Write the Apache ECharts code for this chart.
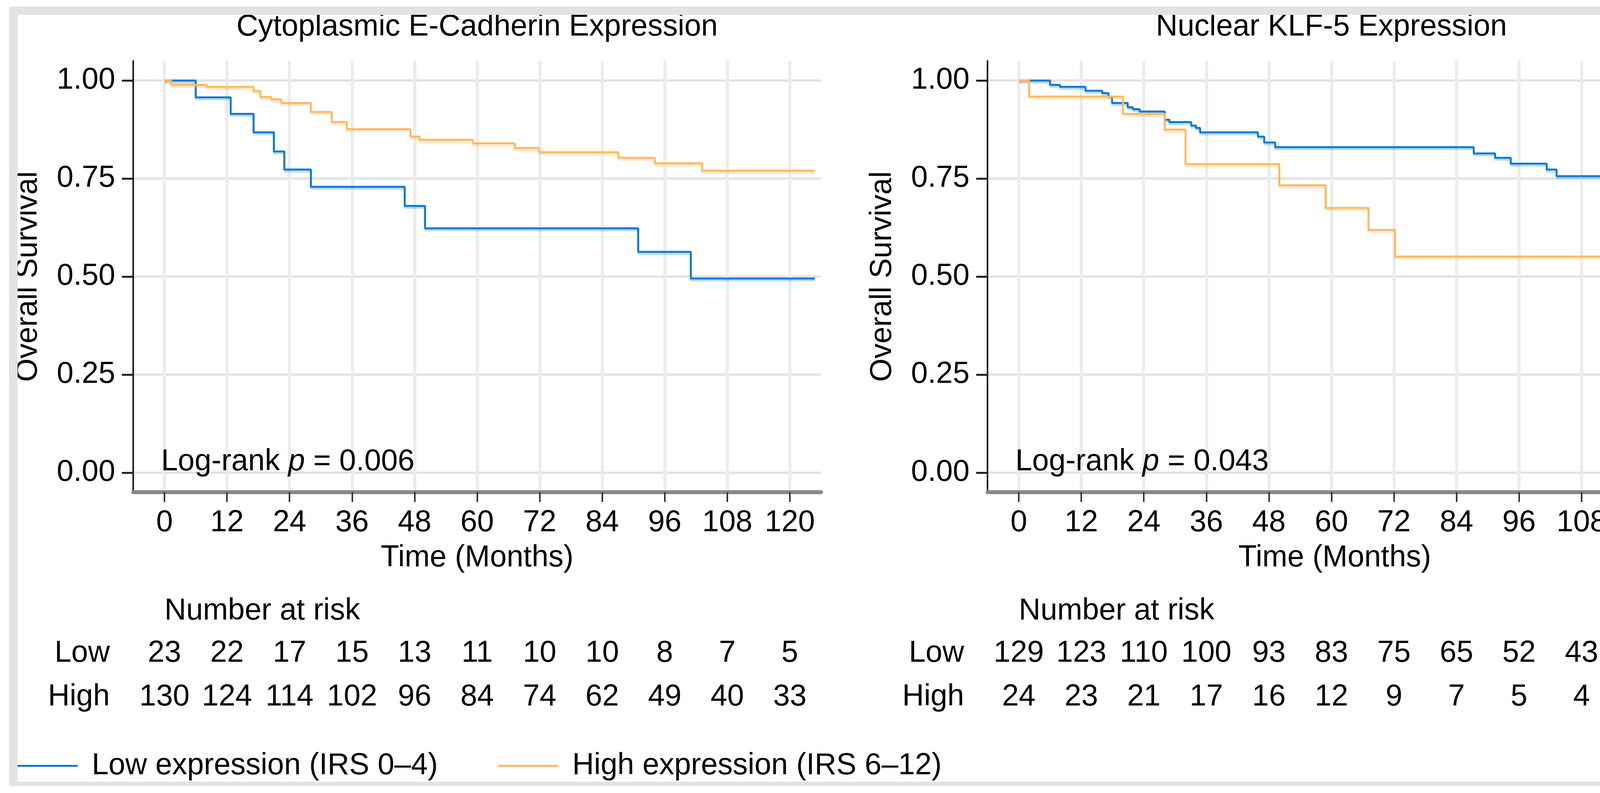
<!DOCTYPE html>
<html>
<head>
<meta charset="utf-8">
<title>Overall survival by expression</title>
<script src="https://cdn.jsdelivr.net/npm/echarts@6.0.0/dist/echarts.min.js"></script>
<style>
  html, body { margin: 0; padding: 0; background: #fff; }
  #chart { width: 4370px; height: 2030px; }
</style>
</head>
<body>
<div id="chart"></div>
<script>
// ticks
const timeTicks = [0, 12, 24, 36, 48, 60, 72, 84, 96, 108, 120];
const survTicks = [0, 0.25, 0.5, 0.75, 1];
const riskRows = ['High', 'Low'];

const titles = ['Cytoplasmic E-Cadherin Expression', 'Nuclear KLF-5 Expression'];
const pValues = ['0.006', '0.043'];
const lowName = 'Low expression (IRS 0–4)';
const highName = 'High expression (IRS 6–12)';

// Cytoplasmic E-Cadherin curves (time in months, survival)
const cadLowTime = [0, 6.0, 12.7, 17.1, 21.0, 23.0, 28.1, 46.1, 50.0, 90.9, 101.0, 124.8];
const cadLowSurv = [1, 0.957, 0.915, 0.868, 0.819, 0.773, 0.729, 0.680, 0.623, 0.563, 0.495, 0.495];
const cadHighTime = [0, 1.3, 8.1, 17.1, 18.4, 20.5, 22.4, 28.1, 32.1, 35.0, 47.2, 48.9, 59.2, 67.2, 71.9, 87.1, 94.1, 103.2, 124.8];
const cadHighSurv = [1, 0.989, 0.984, 0.973, 0.958, 0.952, 0.943, 0.920, 0.894, 0.876, 0.857, 0.849, 0.840, 0.828, 0.817, 0.803, 0.789, 0.770, 0.770];

// Nuclear KLF-5 curves
const klfLowTime = [0, 6.0, 7.9, 12.8, 16.0, 17.2, 17.9, 20.9, 21.9, 23.2, 28.0, 28.9, 33.1, 34.0, 34.8, 45.9, 47.1, 49.2, 87.3, 91.4, 94.4, 101.3, 103.2, 126.5];
const klfLowSurv = [1, 0.989, 0.984, 0.974, 0.968, 0.959, 0.943, 0.932, 0.927, 0.921, 0.900, 0.894, 0.885, 0.879, 0.868, 0.857, 0.842, 0.830, 0.814, 0.803, 0.788, 0.773, 0.756, 0.756];
const klfHighTime = [0, 2.0, 20.0, 28.0, 32.0, 50.0, 58.9, 67.1, 72.2, 126.5];
const klfHighSurv = [1, 0.959, 0.915, 0.875, 0.787, 0.733, 0.675, 0.619, 0.551, 0.551];

// number at risk
const cadRiskLow = [23, 22, 17, 15, 13, 11, 10, 10, 8, 7, 5];
const cadRiskHigh = [130, 124, 114, 102, 96, 84, 74, 62, 49, 40, 33];
const klfRiskLow = [129, 123, 110, 100, 93, 83, 75, 65, 52, 43, 35];
const klfRiskHigh = [24, 23, 21, 17, 16, 12, 9, 7, 5, 4, 3];

const FONT = 'Liberation Sans';
const FS = 77;
const INK = '#000';
const BLUE = '#0a78d6';
const ORANGE = '#ffb85e';

// both panels share the px-per-month scale, the right one runs into the frame
const panels = [
  { left: 341, width: 1761 },
  { left: 2528, width: 1778 }
];
panels.forEach(p => { p.max = -6 + p.width * 132 / panels[0].width; });

const txt = extra => Object.assign({ fontSize: FS, color: INK, fontFamily: FONT }, extra);
const toPairs = (t, s) => t.map((x, i) => [x, s[i]]);

const kmX = (p, gi) => ({
  type: 'value', gridIndex: gi, min: -6, max: p.max,
  name: 'Time (Months)', nameLocation: 'middle', nameGap: 169,
  nameTextStyle: txt({ verticalAlign: 'middle' }),
  axisLine: { show: true, onZero: false, lineStyle: { color: '#8f8686', width: 10 } },
  axisTick: { show: true, customValues: timeTicks, length: 25, lineStyle: { color: '#333', width: 4 } },
  axisLabel: txt({ customValues: timeTicks, margin: 40 }),
  splitLine: { show: true, customValues: timeTicks, lineStyle: { color: '#ececec', width: 8 } }
});

const kmY = gi => ({
  type: 'value', gridIndex: gi, min: -0.05, max: 1.05,
  name: 'Overall Survival', nameLocation: 'middle', nameGap: 268,
  nameTextStyle: txt({ verticalAlign: 'middle' }),
  axisLine: { show: true, onZero: false, lineStyle: { color: '#1e1414', width: 4 } },
  axisTick: { show: true, customValues: survTicks, length: 29, lineStyle: { color: '#222', width: 5 } },
  axisLabel: txt({ customValues: survTicks, margin: 46, formatter: v => v.toFixed(2) }),
  splitLine: { show: true, customValues: survTicks, lineStyle: { color: '#e3e3e3', width: 6 } }
});

const riskX = (p, gi) => ({ type: 'value', gridIndex: gi, min: -6, max: p.max, show: false });

const riskY = gi => ({
  type: 'category', gridIndex: gi, data: riskRows,
  name: 'Number at risk', nameLocation: 'end', nameGap: 52,
  nameTextStyle: txt({ align: 'left', verticalAlign: 'middle' }),
  axisLine: { show: false }, axisTick: { show: false }, splitLine: { show: false },
  axisLabel: txt({ margin: 60 })
});

const kmSeries = (name, color, band, t, s, gi, z) => ({
  type: 'line', name, xAxisIndex: gi, yAxisIndex: gi, z, silent: true,
  data: toPairs(t, s), step: 'end', symbol: 'none', showSymbol: false,
  lineStyle: { color, width: 5, shadowColor: band, shadowOffsetY: 5, shadowBlur: 0 },
  itemStyle: { color }
});

// text-only marks: invisible symbol, opaque label
const textOnly = { symbolSize: 1, itemStyle: { color: 'rgba(0,0,0,0)' }, silent: true };

const riskSeries = (row, counts, gi) => Object.assign({
  type: 'scatter', xAxisIndex: gi, yAxisIndex: gi,
  data: timeTicks.map((t, i) => [t, row, counts[i]]),
  label: txt({ show: true, position: 'inside', opacity: 1, textBorderWidth: 0, formatter: p => p.value[2] })
}, textOnly);

const pSeries = (pv, gi) => Object.assign({
  type: 'scatter', xAxisIndex: gi, yAxisIndex: gi,
  data: [[0, 0]],
  label: {
    show: true, position: 'right', distance: 0, offset: [-9, -27], opacity: 1,
    formatter: '{t|Log-rank }{i|p}{t| = ' + pv + '}',
    rich: { t: txt(), i: txt({ fontStyle: 'italic' }) }
  }
}, textOnly);

// light grey frame round the figure
const frame = [
  [23, 17, 4320, 21], [23, 17, 22, 1995], [4306, 17, 37, 1995], [23, 2001, 4320, 11]
].map(r => ({
  type: 'rect', z: 100, silent: true,
  shape: { x: r[0], y: r[1], width: r[2], height: r[3] },
  style: { fill: '#e3e3e3' }
}));

const option = {
  animation: false,
  backgroundColor: '#fff',
  title: titles.map((text, i) => ({
    text, left: panels[i].left + 66 * 13.34, top: 70, padding: 0,
    textAlign: 'center', textVerticalAlign: 'middle',
    textStyle: txt({ fontWeight: 'normal' })
  })),
  grid: [
    { left: panels[0].left, top: 156, width: panels[0].width, height: 1104, outerBoundsMode: 'none' },
    { left: panels[1].left, top: 156, width: panels[1].width, height: 1104, outerBoundsMode: 'none' },
    { left: panels[0].left, top: 1617, width: panels[0].width, height: 224, outerBoundsMode: 'none' },
    { left: panels[1].left, top: 1617, width: panels[1].width, height: 224, outerBoundsMode: 'none' }
  ],
  xAxis: [kmX(panels[0], 0), kmX(panels[1], 1), riskX(panels[0], 2), riskX(panels[1], 3)],
  yAxis: [kmY(0), kmY(1), riskY(2), riskY(3)],
  legend: {
    data: [lowName, highName], left: 45, top: 1922, padding: 0,
    icon: 'rect', itemWidth: 154, itemHeight: 5, itemGap: 154,
    textStyle: txt({ padding: [0, 0, 0, 31] })
  },
  graphic: frame,
  series: [
    kmSeries(lowName, BLUE, 'rgba(10,120,214,0.28)', cadLowTime, cadLowSurv, 0, 3),
    kmSeries(highName, ORANGE, 'rgba(255,184,94,0.35)', cadHighTime, cadHighSurv, 0, 4),
    kmSeries(lowName, BLUE, 'rgba(10,120,214,0.28)', klfLowTime, klfLowSurv, 1, 3),
    kmSeries(highName, ORANGE, 'rgba(255,184,94,0.35)', klfHighTime, klfHighSurv, 1, 4),
    pSeries(pValues[0], 0),
    pSeries(pValues[1], 1),
    riskSeries('Low', cadRiskLow, 2),
    riskSeries('High', cadRiskHigh, 2),
    riskSeries('Low', klfRiskLow, 3),
    riskSeries('High', klfRiskHigh, 3)
  ]
};

const chart = echarts.init(document.getElementById('chart'));
chart.setOption(option);
</script>
</body>
</html>
